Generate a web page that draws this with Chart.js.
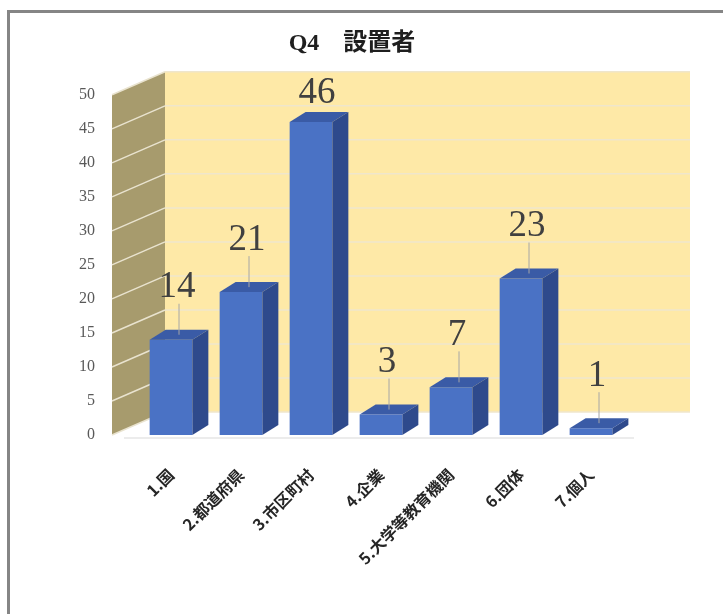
<!DOCTYPE html>
<html lang="ja">
<head>
<meta charset="utf-8">
<title>Q4 設置者</title>
<script src="https://cdn.jsdelivr.net/npm/chart.js@4.4.1/dist/chart.umd.min.js"></script>
<style>
  html, body { margin: 0; padding: 0; background: #fff; overflow: hidden; }
  #frame { position: absolute; left: 7px; top: 10px; width: 780px; height: 680px;
           border: 3px solid #858585; box-sizing: border-box; }
  #wrap { position: absolute; left: 0; top: 0; width: 723px; height: 614px; }
</style>
</head>
<body>
<div id="frame"></div>
<div id="wrap"><canvas id="chart" width="723" height="614"></canvas></div>
<script>
// 設置者別の件数
const categories = ['1.国', '2.都道府県', '3.市区町村', '4.企業', '5.大学等教育機関', '6.団体', '7.個人'];
const counts = [14, 21, 46, 3, 7, 23, 1];
const yTicks = [0, 5, 10, 15, 20, 25, 30, 35, 40, 45, 50];

const FRONT = '#4A72C5';
const SIDE = '#2E4A8C';
const TOP = '#3A5BA6';
const BACK_WALL = '#FEE9A7';
const SIDE_WALL = '#A79B6D';

// 奥行き (棒と壁)
const BAR_DX = 16, BAR_DY = -10;
const WALL_DX = 53, WALL_DY = -23;

const depth = {
  id: 'depth',
  beforeDatasetsDraw(chart) {
    const { ctx, chartArea: a, scales: { y } } = chart;
    const y0 = y.getPixelForValue(0);
    const yMax = y.getPixelForValue(50);
    const wx = a.left - 24;
    const bx = wx + WALL_DX;
    const right = a.right + 64;
    ctx.save();
    // 奥の壁
    ctx.fillStyle = BACK_WALL;
    ctx.fillRect(bx, yMax + WALL_DY, right - bx, y0 - yMax);
    // 側面の壁
    ctx.fillStyle = SIDE_WALL;
    ctx.beginPath();
    ctx.moveTo(wx, yMax);
    ctx.lineTo(bx, yMax + WALL_DY);
    ctx.lineTo(bx, y0 + WALL_DY);
    ctx.lineTo(wx, y0);
    ctx.closePath();
    ctx.fill();
    // 目盛線
    ctx.lineWidth = 1.5;
    yTicks.forEach(v => {
      const py = y.getPixelForValue(v);
      ctx.strokeStyle = '#E9E3CF';
      ctx.beginPath();
      ctx.moveTo(wx, py);
      ctx.lineTo(bx, py + WALL_DY);
      ctx.stroke();
      ctx.strokeStyle = '#EFE6CC';
      ctx.beginPath();
      ctx.moveTo(bx, py + WALL_DY);
      ctx.lineTo(right, py + WALL_DY);
      ctx.stroke();
    });
    // 床の手前の線
    ctx.strokeStyle = '#D9D9D9';
    ctx.lineWidth = 1;
    ctx.beginPath();
    ctx.moveTo(wx + 12, y0 + 3);
    ctx.lineTo(a.right + 8, y0 + 3);
    ctx.stroke();
    ctx.restore();
  },
  afterDatasetsDraw(chart) {
    const { ctx } = chart;
    const bars = chart.getDatasetMeta(0).data;
    ctx.save();
    bars.forEach((bar, i) => {
      const x1 = bar.x - bar.width / 2, x2 = bar.x + bar.width / 2;
      const top = bar.y, bottom = bar.base;
      // 上面
      ctx.fillStyle = TOP;
      ctx.beginPath();
      ctx.moveTo(x1, top);
      ctx.lineTo(x1 + BAR_DX, top + BAR_DY);
      ctx.lineTo(x2 + BAR_DX, top + BAR_DY);
      ctx.lineTo(x2, top);
      ctx.closePath();
      ctx.fill();
      // 右側面
      ctx.fillStyle = SIDE;
      ctx.beginPath();
      ctx.moveTo(x2, top);
      ctx.lineTo(x2 + BAR_DX, top + BAR_DY);
      ctx.lineTo(x2 + BAR_DX, bottom + BAR_DY);
      ctx.lineTo(x2, bottom);
      ctx.closePath();
      ctx.fill();

      // データラベルと引出線
      const cx = bar.x + 6;
      const ly = Math.max(93, top - 52);
      const tx = bar.x + BAR_DX / 2, ty = top + BAR_DY / 2;
      if (ty - (ly + 16) > 10) {
        ctx.strokeStyle = '#A6A6A6';
        ctx.lineWidth = 1;
        ctx.beginPath();
        ctx.moveTo(cx + 2, ly + 16);
        ctx.lineTo(tx, ty);
        ctx.stroke();
      }
      ctx.fillStyle = '#404040';
      ctx.font = '37px "Liberation Serif", serif';
      ctx.textAlign = 'center';
      ctx.textBaseline = 'middle';
      ctx.fillText(String(counts[i]), cx, ly);
    });
    ctx.restore();
  }
};

new Chart(document.getElementById('chart'), {
  type: 'bar',
  data: {
    labels: categories,
    datasets: [{
      data: counts,
      backgroundColor: FRONT,
      borderWidth: 0,
      categoryPercentage: 1,
      barPercentage: 0.61
    }]
  },
  options: {
    responsive: false,
    animation: false,
    layout: { padding: { top: 29, left: 78, right: 97, bottom: 0 } },
    plugins: {
      legend: { display: false },
      tooltip: { enabled: false },
      title: {
        display: true,
        text: 'Q4　設置者',
        color: '#1F1F1F',
        font: { family: '"Liberation Serif", "Noto Sans CJK JP", serif', size: 24, weight: 'bold' },
        padding: { top: 0, bottom: 37 }
      }
    },
    scales: {
      x: {
        grid: { display: false, drawTicks: false },
        border: { display: false },
        ticks: {
          autoSkip: false,
          minRotation: 45,
          maxRotation: 45,
          padding: 30,
          color: '#262626',
          font: { family: '"Noto Sans CJK JP", sans-serif', size: 16, weight: 'bold' }
        },
        afterFit(scale) { scale.height = 179; }
      },
      y: {
        min: 0,
        max: 50,
        grid: { display: false, drawTicks: false },
        border: { display: false },
        ticks: {
          padding: 41,
          color: '#595959',
          font: { family: '"Liberation Serif", serif', size: 16 }
        },
        afterBuildTicks(scale) { scale.ticks = yTicks.map(v => ({ value: v })); },
        afterFit(scale) { scale.width = 58; }
      }
    }
  },
  plugins: [depth]
});
</script>
</body>
</html>
